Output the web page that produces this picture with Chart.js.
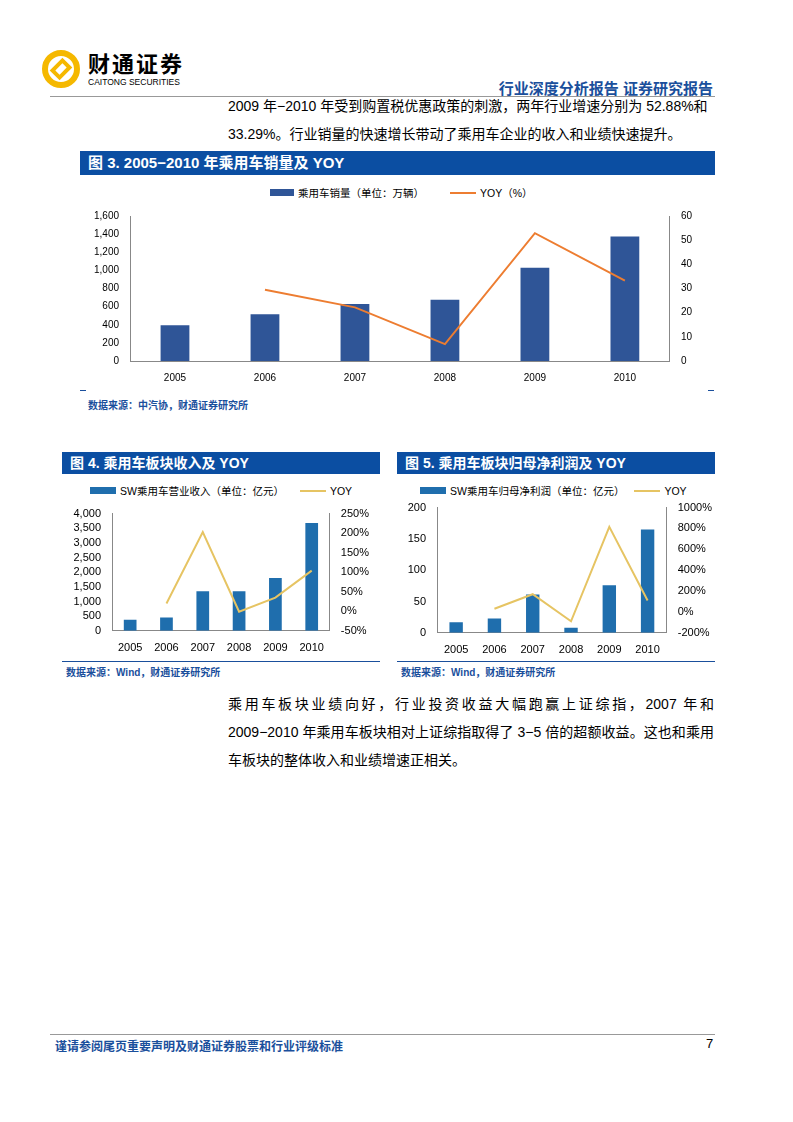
<!DOCTYPE html>
<html><head><meta charset="utf-8">
<script src="https://cdn.jsdelivr.net/npm/chart.js@4"></script>
<style>
  body { margin:0; width:793px; height:1122px; position:relative; background:#fff; font-family:"Liberation Sans","Noto Sans CJK SC",sans-serif; color:#000; }
  .abs { position:absolute; }
  .bar { background:#0b4ea2; color:#fff; font-weight:bold; font-size:15px; line-height:24px; padding-left:8px; box-sizing:border-box; }
  .src { font-size:10px; font-weight:bold; color:#1a4f9c; }
  .body { font-size:14px; line-height:28px; }
  .leg { font-size:10.5px; display:flex; align-items:center; gap:4px; white-space:nowrap; }
  .sw { display:inline-block; }
</style></head>
<body>
<!-- header -->
<div class="abs" style="left:42px;top:50px;width:38px;height:38px;border-radius:50%;border:6px solid #f5b800;box-sizing:border-box;"></div>
<div class="abs" style="left:54px;top:60px;width:14px;height:18px;border:4px solid #f5b800;transform:rotate(45deg);box-sizing:border-box;"></div>
<div class="abs" style="left:88px;top:46px;font-size:22px;font-weight:bold;letter-spacing:2px;">财通证券</div>
<div class="abs" style="left:88px;top:77px;font-size:8.5px;">CAITONG SECURITIES</div>
<div class="abs" style="right:80px;top:77px;font-size:15px;font-weight:bold;color:#1a4f9c;">行业深度分析报告 证券研究报告</div>
<div class="abs" style="left:50px;top:96px;width:665px;height:1px;background:#999;"></div>
<div class="abs body" style="left:228px;top:92px;width:500px;white-space:nowrap;">2009 年−2010 年受到购置税优惠政策的刺激，两年行业增速分别为 52.88%和<br>33.29%。行业销量的快速增长带动了乘用车企业的收入和业绩快速提升。</div>

<!-- Fig 3 -->
<div class="abs bar" style="left:80px;top:151px;width:635px;height:24px;">图 3. 2005−2010 年乘用车销量及 YOY</div>
<div class="abs leg" style="left:270px;top:185px;">
  <span class="sw" style="width:24px;height:7px;background:#2f5597;"></span><span>乘用车销量（单位：万辆）</span>
  <span class="sw" style="width:26px;height:2px;background:#ed7d31;margin-left:22px;"></span><span>YOY（%）</span>
</div>
<div class="abs" style="left:80px;top:207px;width:635px;height:180px;"><canvas id="c1"></canvas></div>
<div class="abs" style="left:80px;top:390px;width:6px;height:1px;background:#1a4f9c;"></div>
<div class="abs" style="left:708px;top:390px;width:6px;height:1px;background:#1a4f9c;"></div>
<div class="abs src" style="left:88px;top:397px;">数据来源：中汽协，财通证券研究所</div>

<!-- Fig 4 -->
<div class="abs bar" style="left:62px;top:452px;width:318px;height:22px;line-height:22px;font-size:14px;">图 4. 乘用车板块收入及 YOY</div>
<div class="abs leg" style="left:90px;top:483px;">
  <span class="sw" style="width:26px;height:7px;background:#1f6ead;"></span><span>SW乘用车营业收入（单位：亿元）</span>
  <span class="sw" style="width:26px;height:2px;background:#e6c463;margin-left:12px;"></span><span>YOY</span>
</div>
<div class="abs" style="left:62px;top:504px;width:318px;height:154px;"><canvas id="c2"></canvas></div>
<div class="abs" style="left:62px;top:661px;width:318px;height:1px;background:#1a4f9c;"></div>
<div class="abs src" style="left:66px;top:664px;">数据来源：Wind，财通证券研究所</div>

<!-- Fig 5 -->
<div class="abs bar" style="left:397px;top:452px;width:318px;height:22px;line-height:22px;font-size:14px;">图 5. 乘用车板块归母净利润及 YOY</div>
<div class="abs leg" style="left:420px;top:483px;">
  <span class="sw" style="width:26px;height:7px;background:#1f6ead;"></span><span>SW乘用车归母净利润（单位：亿元）</span>
  <span class="sw" style="width:26px;height:2px;background:#e6c463;margin-left:6px;"></span><span>YOY</span>
</div>
<div class="abs" style="left:397px;top:498px;width:318px;height:162px;"><canvas id="c3"></canvas></div>
<div class="abs" style="left:397px;top:661px;width:318px;height:1px;background:#1a4f9c;"></div>
<div class="abs src" style="left:401px;top:664px;">数据来源：Wind，财通证券研究所</div>

<div class="abs body" style="left:228px;top:690px;width:486px;text-align:justify;">乘用车板块业绩向好，行业投资收益大幅跑赢上证综指，2007 年和 2009−2010 年乘用车板块相对上证综指取得了 3−5 倍的超额收益。这也和乘用车板块的整体收入和业绩增速正相关。</div>

<!-- footer -->
<div class="abs" style="left:50px;top:1034px;width:665px;height:1px;background:#999;"></div>
<div class="abs" style="left:55px;top:1037px;font-size:12px;font-weight:bold;color:#1a4f9c;">谨请参阅尾页重要声明及财通证券股票和行业评级标准</div>
<div class="abs" style="left:706px;top:1036px;font-size:13px;">7</div>

<script>
const years = ['2005', '2006', '2007', '2008', '2009', '2010'];
const salesVol = [395, 515, 630, 675, 1030, 1375];
const salesYoy = [null, 29.5, 22.2, 7.0, 52.9, 33.3];
const revenue = [380, 450, 1350, 1350, 1800, 3680];
const revenueYoy = [null, 20, 203, -1, 35, 104];
const profit = [17, 23, 61, 8, 76, 165];
const profitYoy = [null, 30, 170, -90, 815, 110];

Chart.defaults.font.family = '"Liberation Sans","Noto Sans CJK SC",sans-serif';
Chart.defaults.color = '#000';
Chart.defaults.animation = false;

function make(id, bars, line, barColor, lineColor, left, right, opts) {
  new Chart(document.getElementById(id), {
    data: {
      labels: years,
      datasets: [
        { type: 'line', data: line, yAxisID: 'y1', borderColor: lineColor, borderWidth: 2, pointRadius: 0, tension: 0, order: 0 },
        { type: 'bar', data: bars, yAxisID: 'y', backgroundColor: barColor, barPercentage: opts.bp, categoryPercentage: 1, order: 1 }
      ]
    },
    options: {
      responsive: true, maintainAspectRatio: false,
      layout: { padding: opts.pad },
      plugins: { legend: { display: false }, tooltip: { enabled: false } },
      scales: {
        x: { grid: { display: false }, border: { color: '#888' }, ticks: { font: { size: opts.fs } } },
        y: { min: left[0], max: left[1], grid: { display: false }, border: { color: '#888' }, afterFit: s => { s.width = opts.lw; },
             ticks: { stepSize: left[2], autoSkip: false, font: { size: opts.fs }, callback: v => v.toLocaleString('en-US') } },
        y1: { position: 'right', min: right[0], max: right[1], grid: { display: false }, border: { color: '#888' },
              ticks: { stepSize: right[2], autoSkip: false, font: { size: opts.fs }, callback: v => v + opts.suf } }
      }
    }
  });
}

make('c1', salesVol, salesYoy, '#2f5597', '#ed7d31', [0, 1600, 200], [0, 60, 10],
  { bp: 0.32, fs: 10, suf: '', lw: 50, pad: { left: 0, right: 20, top: 5 } });
make('c2', revenue, revenueYoy, '#1f6ead', '#e6c463', [0, 4000, 500], [-50, 250, 50],
  { bp: 0.35, fs: 11, suf: '%', lw: 50, pad: { left: 0, right: 8, top: 6 } });
make('c3', profit, profitYoy, '#1f6ead', '#e6c463', [0, 200, 50], [-200, 1000, 200],
  { bp: 0.35, fs: 11, suf: '%', lw: 40, pad: { left: 0, right: 0, top: 6 } });
</script>
</body></html>
